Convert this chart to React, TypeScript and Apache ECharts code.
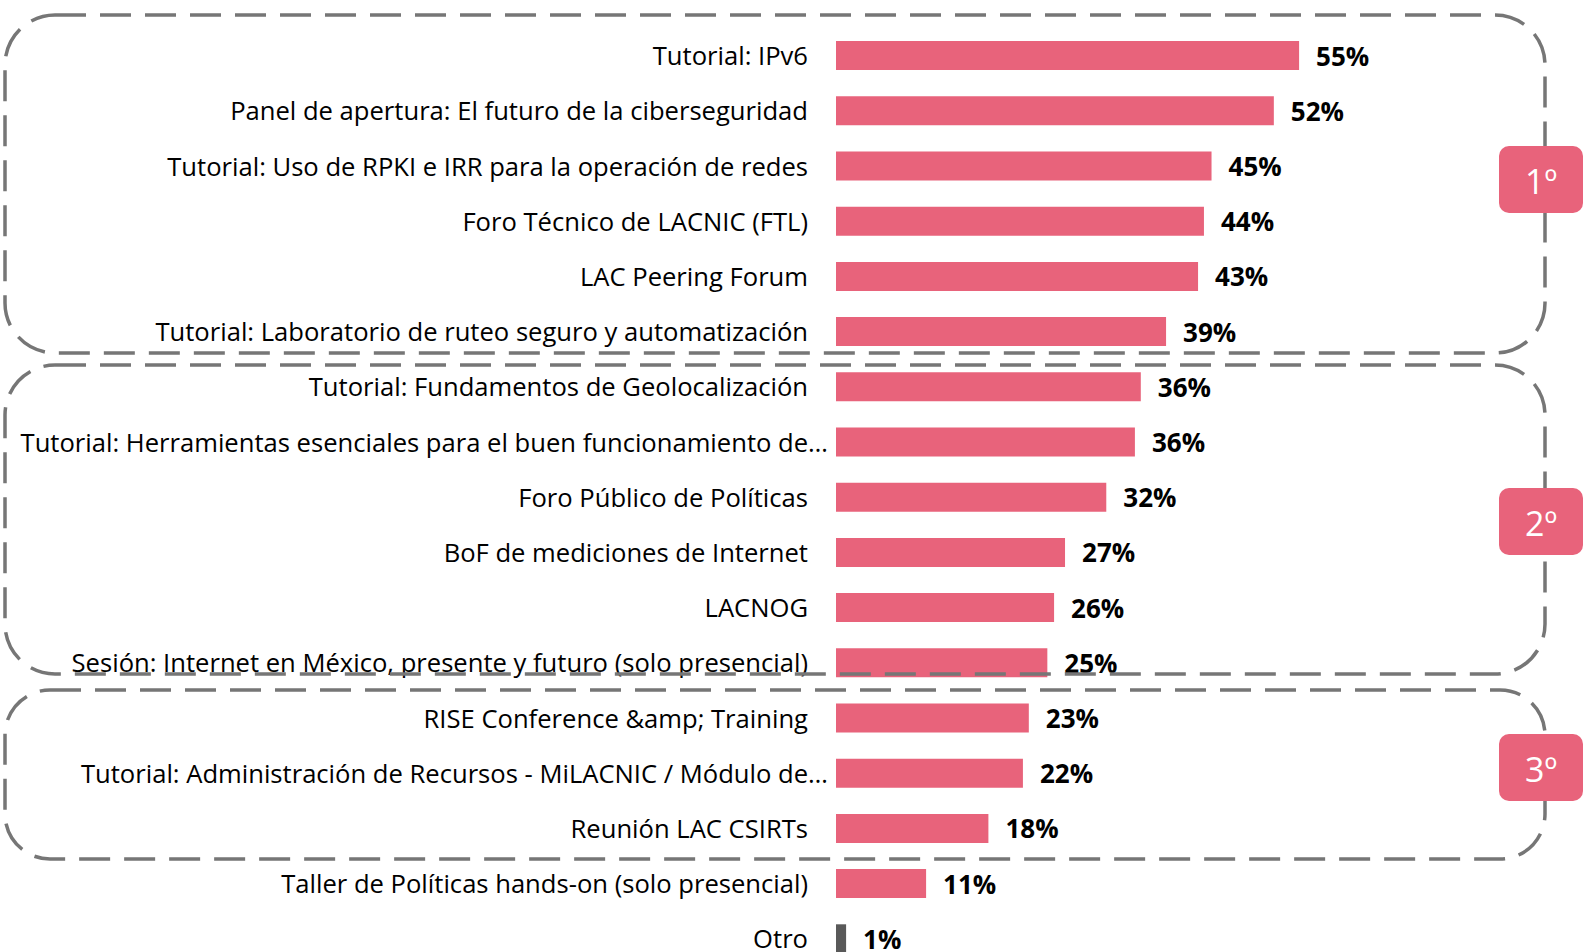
import React, { useEffect, useRef } from "react";
import * as echarts from "echarts";

const categories = [
  "Tutorial: IPv6",
  "Panel de apertura: El futuro de la ciberseguridad",
  "Tutorial: Uso de RPKI e IRR para la operación de redes",
  "Foro Técnico de LACNIC (FTL)",
  "LAC Peering Forum",
  "Tutorial: Laboratorio de ruteo seguro y automatización",
  "Tutorial: Fundamentos de Geolocalización",
  "Tutorial: Herramientas esenciales para el buen funcionamiento de…",
  "Foro Público de Políticas",
  "BoF de mediciones de Internet",
  "LACNOG",
  "Sesión: Internet en México, presente y futuro (solo presencial)",
  "RISE Conference &amp; Training",
  "Tutorial: Administración de Recursos - MiLACNIC / Módulo de…",
  "Reunión LAC CSIRTs",
  "Taller de Políticas hands-on (solo presencial)",
  "Otro",
];

const values = [55.0, 52.0, 44.6, 43.7, 43.0, 39.2, 36.2, 35.5, 32.1, 27.2, 25.9, 25.1, 22.9, 22.2, 18.1, 10.7, 1.2];

const groupLabels = ["1º", "2º", "3º"];

const PINK = "#E8637B";
const GRAY = "#595959";
const FONT = "'Open Sans'";

export default function App() {
  const ref = useRef<HTMLDivElement>(null);
  useEffect(() => {
    if (!ref.current) return;
    const chart = echarts.init(ref.current, null, { renderer: "svg" });
    const boxes = [
      { y: 15, h: 338, r: 50 },
      { y: 365, h: 309, r: 50 },
      { y: 690, h: 169, r: 45 },
    ];
    const badgeY = [146, 488, 734];
    const graphics: any[] = [];
    boxes.forEach((b) => {
      graphics.push({
        type: "rect",
        shape: { x: 5, y: b.y, width: 1540, height: b.h, r: b.r },
        style: { fill: "none", stroke: "#767676", lineWidth: 3.5, lineDash: [31, 14] },
        z: 10,
      });
    });
    badgeY.forEach((y, i) => {
      graphics.push({
        type: "group",
        left: 1499,
        top: y,
        z: 20,
        children: [
          {
            type: "rect",
            shape: { x: 0, y: 0, width: 84, height: 67, r: 10 },
            style: { fill: PINK },
            z: 20,
          },
          {
            type: "text",
            x: 42,
            y: 35,
            style: {
              text: groupLabels[i],
              fill: "#ffffff",
              font: `34px ${FONT}`,
              align: "center",
              verticalAlign: "middle",
            },
            z: 21,
          },
        ],
      });
    });
    chart.setOption({
      animation: false,
      backgroundColor: "#ffffff",
      grid: {
        left: 836,
        top: 28,
        height: 938.4,
        width: 505.2,
        containLabel: false,
        outerBoundsMode: "none",
      },
      xAxis: { type: "value", min: 0, max: 60, show: false, splitLine: { show: false } },
      yAxis: {
        type: "category",
        inverse: true,
        data: categories,
        axisLine: { show: false },
        axisTick: { show: false },
        axisLabel: {
          color: "#000000",
          fontSize: 25.6,
          lineHeight: 24,
          fontFamily: FONT,
          margin: 28,
          formatter: (v: string) => (v.endsWith("…") ? `{t|${v}}` : v),
          rich: {
            t: {
              color: "#000000",
              fontSize: 25.6,
              lineHeight: 24,
              fontFamily: FONT,
              padding: [0, -20, 0, 0],
            },
          },
        },
      },
      series: [
        {
          type: "bar",
          data: values.map((v, i) => ({
            value: v,
            itemStyle: { color: i === values.length - 1 ? GRAY : PINK },
          })),
          barWidth: 29,
          label: {
            show: true,
            position: "right",
            distance: 17,
            color: "#000000",
            fontSize: 26,
            lineHeight: 24,
            fontWeight: "bold",
            fontFamily: FONT,
            formatter: (p: any) => Math.round(p.value) + "%",
          },
        },
      ],
      graphic: graphics,
    });
    return () => chart.dispose();
  }, []);
  return (
    <div style={{ position: "fixed", left: 0, top: 0, width: 1583, height: 952, overflow: "hidden", background: "#fff" }}>
      <div ref={ref} style={{ width: 1583, height: 980 }} />
    </div>
  );
}
